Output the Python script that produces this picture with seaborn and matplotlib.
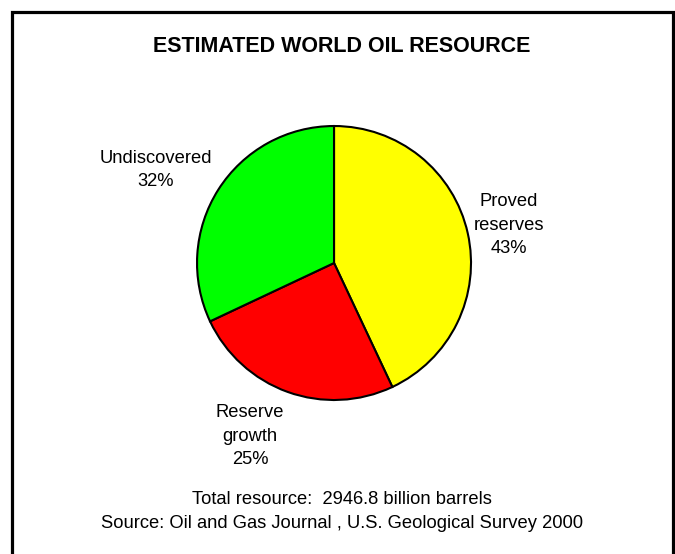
import matplotlib
matplotlib.use("Agg")
import matplotlib.pyplot as plt
from matplotlib.patches import Rectangle
import seaborn as sns

# slices, clockwise from 12 o'clock
categories = ["Proved\nreserves", "Reserve\ngrowth", "Undiscovered"]
shares = [43, 25, 32]
colors = ["#FFFF00", "#FF0000", "#00FF00"]
# label centres, in units of the pie radius
label_pos = [(1.277, 0.277), (-0.613, -1.263), (-1.299, 0.679)]

title = "ESTIMATED WORLD OIL RESOURCE"
notes = ["Total resource:  2946.8 billion barrels",
         "Source: Oil and Gas Journal , U.S. Geological Survey 2000"]

sns.set_theme(style="white")
plt.rcParams["font.family"] = ["Liberation Sans", "DejaVu Sans"]
plt.rcParams["text.color"] = "black"

fig = plt.figure(figsize=(6.75, 5.54), dpi=100)
ax = fig.add_axes([0.1701, 0.1296, 0.6495, 0.7913])

wedges, _ = ax.pie(shares, colors=colors, startangle=90, counterclock=False,
                   wedgeprops={"edgecolor": "black", "linewidth": 1.5})
ax.set_xlim(-1.6, 1.6)
ax.set_ylim(-1.6, 1.6)
ax.set_aspect("equal")
ax.axis("off")

for name, val, (x, y) in zip(categories, shares, label_pos):
    ax.text(x, y, f"{name}\n{val}%", ha="center", va="center",
            fontsize=13.2, linespacing=1.5, color="black")

fig.text(342 / 675, 1 - 46 / 554, title, ha="center", va="center",
         fontsize=15.5, fontweight="bold", color="black")
fig.text(342 / 675, 1 - 500 / 554, notes[0], ha="center", va="center",
         fontsize=13.2, color="black")
fig.text(342 / 675, 1 - 523 / 554, notes[1], ha="center", va="center",
         fontsize=13.2, color="black")

fig.patches.append(Rectangle((12 / 675, -0.05), 661 / 675, 1.05 - 11.5 / 554,
                             transform=fig.transFigure, fill=False,
                             edgecolor="black", linewidth=2.3))

fig.savefig("out.png", dpi=100)
